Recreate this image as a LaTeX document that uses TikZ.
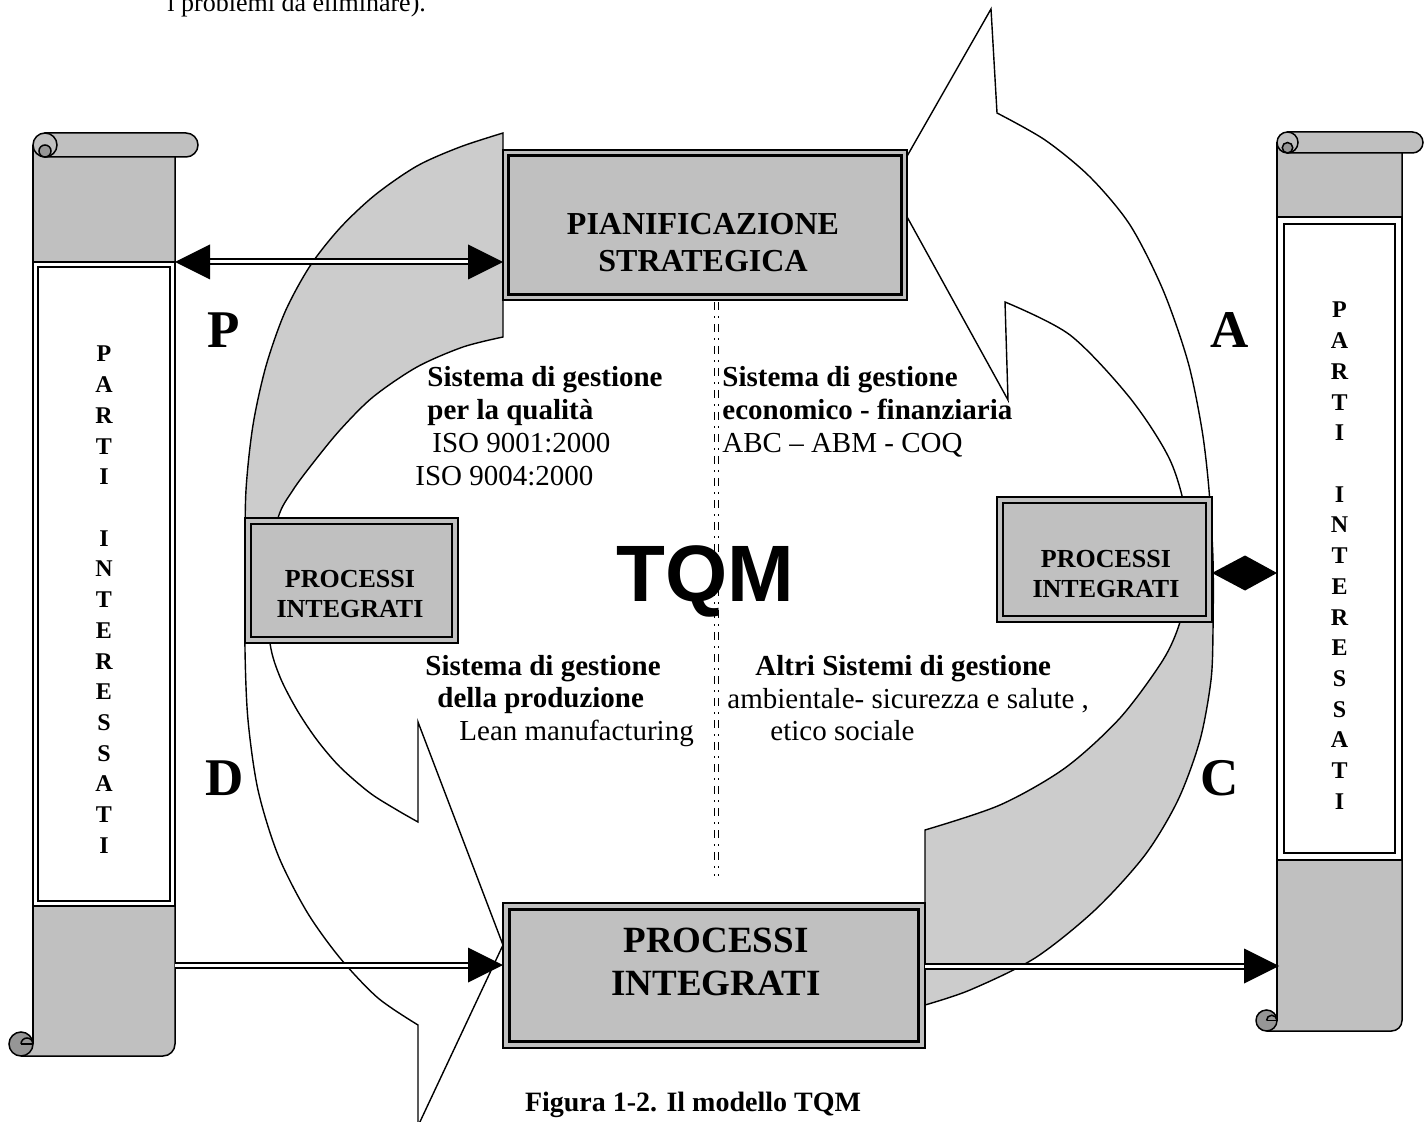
\documentclass[tikz,border=0pt]{standalone}
\usepackage{fontspec}
\setmainfont{Liberation Serif}
\newfontfamily\tqmfont{Liberation Sans}
\usetikzlibrary{calc}

\definecolor{boxgray}{RGB}{192,192,192}
\definecolor{bandgray}{RGB}{204,204,204}
\definecolor{curlgray}{RGB}{150,150,150}

\newcommand{\fsz}[2]{\fontsize{#1}{#2}\selectfont}

\tikzset{
  bandline/.style={draw=black, line width=0.7pt, line join=miter},
  procbox/.style={draw=black, line width=0.9pt, fill=boxgray, inner sep=0pt, outer sep=0pt},
  panelbox/.style={draw=black, line width=1pt, fill=white, inner sep=0pt, outer sep=0pt},
  innerframe/.style={draw=black, line width=1.4pt},
  scrollline/.style={draw=black, line width=0.75pt},
  scrollpart/.style={draw=black, line width=0.75pt, fill=boxgray},
  dblshaft/.style={draw=black, line width=1pt, double=white, double distance=1.5pt},
  headfill/.style={fill=black},
  divider/.style={draw=black, line width=0.6pt, double=white, double distance=1.4pt,
                  dash pattern=on 4pt off 3pt on 1pt off 3pt},
  txt/.style={anchor=base west, inner sep=0pt, font=\fsz{14.5}{16.5}},
  txtb/.style={anchor=base west, inner sep=0pt, font=\fsz{14.5}{16.5}\bfseries},
  boxtxt/.style={anchor=base, inner sep=0pt},
  phase/.style={anchor=base west, inner sep=0pt, font=\fsz{26.5}{30}\bfseries},
  vletter/.style={anchor=base, inner sep=0pt, font=\fsz{12}{14}\bfseries},
}

% vertical scroll: #1 left, #2 right, #3 top, #4 bottom, #5 end of top roll, #6 roll radius
\newcommand{\drawscroll}[6]{%
  \fill[boxgray] (#1,#3+#6) -- (#1,#4-#6) -- (#1-#6,#4-#6) -- (#1-#6,#4) -- (#2-#6,#4)
      arc[start angle=90, end angle=0, radius=#6] -- (#2,#3+#6) -- cycle;
  \draw[scrollline] (#1,#3+#6) -- (#1,#4-#6);
  \draw[scrollline] (#1-#6,#4) -- (#2-#6,#4) arc[start angle=90, end angle=0, radius=#6] -- (#2,#3+#6);
  \filldraw[scrollpart] (#1+#6,#3) -- (#5-#6,#3) arc[start angle=-90, end angle=90, radius=#6]
      -- (#1+#6,#3+2*#6) -- cycle;
  \filldraw[scrollpart] (#1+#6,#3+#6) circle[radius=#6];
  \filldraw[scrollpart, fill=curlgray] (#1+#6,#3+1.5*#6) circle[radius=0.5*#6];
  \filldraw[scrollpart, fill=curlgray] (#1-#6,#4-#6) circle[radius=#6];
  \draw[scrollline] (#1-#6,#4-#6) -- (#1,#4-#6);
  \draw[scrollline] (#1-#6,#4-#6) arc[start angle=180, end angle=360, radius=0.5*#6];
}

\begin{document}
\begin{tikzpicture}[x=0.5pt, y=-0.5pt]
\useasboundingbox (0,0) rectangle (1428,1122);
\clip (0,0) rectangle (1428,1122);

% tail of the preceding paragraph
\node[anchor=base west, inner sep=0pt, font=\fsz{13}{15}] (prevline) at (167,12) {i problemi da eliminare).};

% left cycle arrow (planning -> processes)
\draw[bandline, fill=white, path picture={\fill[bandgray] (0,0) rectangle (1428,580);}]
  (503,133) -- plot[smooth] coordinates {(503,133) (460,147) (417,166) (375,195) (340,228) (310,266)
      (285,312) (266,366) (253,425) (246,490) (245,560) (245,650) (248,720) (258,790) (278,855)
      (307,912) (340,958) (378,998) (418,1025)}
  -- (418,1126) -- (503,945) -- (418,722) -- (418,822)
  -- plot[smooth] coordinates {(418,822) (397,810) (370,793) (340,767) (317,740) (297,710) (280,677)
      (270,643) (267,580) (278,518) (293,490) (313,463) (340,430) (373,397) (417,367) (463,347) (503,337)}
  -- cycle;

% right cycle arrow (processes -> planning)
\draw[bandline, fill=white, path picture={\fill[bandgray] (0,560) rectangle (1428,1122);}]
  (925,1005) -- plot[smooth] coordinates {(925,1005) (970,990) (1035,958) (1095,910) (1145,855)
      (1178,800) (1200,740) (1211,680) (1213,630) (1213,560) (1209,490) (1202,430) (1188,362)
      (1163,290) (1130,225) (1090,177) (1045,140) (997,113)}
  -- (991,9) -- (890,186) -- (1008,400) -- (1005,302)
  -- plot[smooth] coordinates {(1005,302) (1070,335) (1130,398) (1170,460) (1187,520) (1188,580)
      (1180,622) (1163,660) (1120,718) (1065,768) (1000,805) (925,830)}
  -- cycle;

% central divider
\coordinate (dvt) at (716.5,302);
\coordinate (dvb) at (716.5,876);
\draw[divider] (dvt) -- (dvb);

% process boxes
\node[procbox, minimum width=202pt, minimum height=75pt] (top) at (705,225) {};
\draw[innerframe] ($(top.north west)+(5.5,5.5)$) rectangle ($(top.south east)+(-5.5,-5.5)$);
\node[procbox, minimum width=106.5pt, minimum height=62.5pt] (lbox) at (351.5,580.5) {};
\draw[innerframe] ($(lbox.north west)+(6,6)$) rectangle ($(lbox.south east)+(-6,-6)$);
\node[procbox, minimum width=107.5pt, minimum height=62.5pt] (rbox) at (1104.5,559.5) {};
\draw[innerframe] ($(rbox.north west)+(6,6)$) rectangle ($(rbox.south east)+(-6,-6)$);
\node[procbox, minimum width=211pt, minimum height=72.5pt] (bot) at (714,975.5) {};
\draw[innerframe] ($(bot.north west)+(6.5,6.5)$) rectangle ($(bot.south east)+(-6.5,-6.5)$);

\node[boxtxt, font=\fsz{16}{18}\bfseries] (topa) at (703,235) {PIANIFICAZIONE};
\node[boxtxt, font=\fsz{16}{18}\bfseries] (topb) at (703,272) {STRATEGICA};
\node[boxtxt, font=\fsz{13}{15}\bfseries] (lboxa) at (350,587) {PROCESSI};
\node[boxtxt, font=\fsz{13}{15}\bfseries] (lboxb) at (350,617) {INTEGRATI};
\node[boxtxt, font=\fsz{13}{15}\bfseries] (rboxa) at (1106,567) {PROCESSI};
\node[boxtxt, font=\fsz{13}{15}\bfseries] (rboxb) at (1106,597) {INTEGRATI};
\node[boxtxt, font=\fsz{18.5}{21}\bfseries] (bota) at (716,952) {PROCESSI};
\node[boxtxt, font=\fsz{18.5}{21}\bfseries] (botb) at (716,995) {INTEGRATI};

% stakeholder scrolls
\drawscroll{33}{175}{133}{1056}{198}{12}
\drawscroll{1277}{1402}{132}{1031}{1423}{10.5}

\node[panelbox, minimum width=71pt, minimum height=322pt] (lpanel) at (104,584) {};
\draw[innerframe, line width=1.2pt] ($(lpanel.north west)+(5,5)$) rectangle ($(lpanel.south east)+(-5,-5)$);
\node[panelbox, minimum width=62.5pt, minimum height=321.5pt] (rpanel) at (1339.5,538.5) {};
\draw[innerframe, line width=1.2pt] ($(rpanel.north west)+(7,7)$) rectangle ($(rpanel.south east)+(-7,-7)$);

\foreach \ch [count=\i from 0] in {P,A,R,T,I,{},I,N,T,E,R,E,S,S,A,T,I} {
  \node[vletter] (lv\i) at (104,362+30.7*\i) {\ch};
  \node[vletter] (rv\i) at (1339.5,318+30.7*\i) {\ch};
}

% connectors
\coordinate (lsA) at (lpanel.north east);
\coordinate (tpA) at (lsA -| top.west);
\draw[dblshaft] ($(lsA)+(33,0)$) -- ($(tpA)+(-33,0)$);
\fill[headfill] (lsA) -- ++(35,-17.5) -- ++(0,35) -- cycle;
\fill[headfill] (tpA) -- ++(-35,-17.5) -- ++(0,35) -- cycle;

\coordinate (lsB) at (175,965);
\coordinate (btB) at (lsB -| bot.west);
\draw[dblshaft] (lsB) -- ($(btB)+(-33,0)$);
\fill[headfill] (btB) -- ++(-35,-17.5) -- ++(0,35) -- cycle;

\coordinate (rsB) at (1279,966);
\coordinate (btC) at (rsB -| bot.east);
\draw[dblshaft] (btC) -- ($(rsB)+(-33,0)$);
\fill[headfill] (rsB) -- ++(-35,-17.5) -- ++(0,35) -- cycle;

\coordinate (dm) at (1245,573);
\fill[headfill] (rbox.east |- dm) -- ($(dm)+(0,-17.5)$) -- ($(dm)+(0,17.5)$) -- cycle;
\fill[headfill] (rpanel.west |- dm) -- ($(dm)+(0,-17.5)$) -- ($(dm)+(0,17.5)$) -- cycle;

% PDCA letters
\node[phase] (phP) at (207,348) {P};
\node[phase] (phA) at (1210,348) {A};
\node[phase] (phD) at (205,795) {D};
\node[phase] (phC) at (1200,795) {C};

% management systems
\node[txtb] (q1) at (427,387) {Sistema di gestione};
\node[txtb] (q2) at (427,420) {per la qualità};
\node[txt]  (q3) at (432,453) {ISO 9001:2000};
\node[txt]  (q4) at (415,486) {ISO 9004:2000};

\node[txtb] (f1) at (722,387) {Sistema di gestione};
\node[txtb] (f2) at (722,420) {economico - finanziaria};
\node[txt]  (f3) at (722,453) {ABC – ABM - COQ};

\node[txtb] (p1) at (425,675) {Sistema di gestione};
\node[txtb] (p2) at (437,707) {della produzione};
\node[txt]  (p3) at (459,740) {Lean manufacturing};

\node[txtb] (o1) at (755,675) {Altri Sistemi di gestione};
\node[txt]  (o2) at (727,708) {ambientale- sicurezza e salute ,};
\node[txt]  (o3) at (770,740) {etico sociale};

\node[anchor=base, inner sep=0pt, font=\tqmfont\fsz{40}{44}\bfseries] (tqm) at (705,601) {TQM};

\node[anchor=base, inner sep=0pt, font=\fsz{14}{16}\bfseries] (caption) at (693,1111) {Figura 1-2. Il modello TQM};
\end{tikzpicture}
\end{document}
